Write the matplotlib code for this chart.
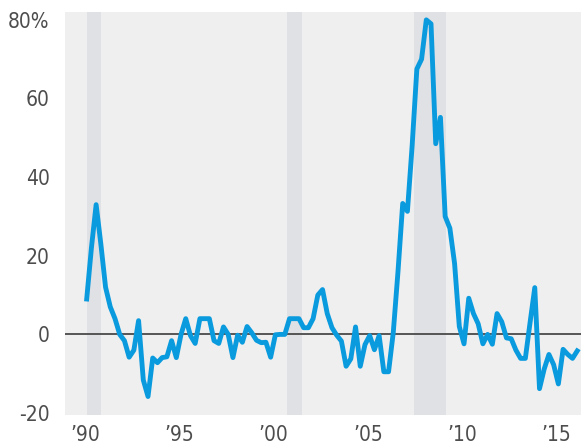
import matplotlib
matplotlib.use('Agg')
import matplotlib.pyplot as plt
import numpy as np

# quarterly values, starting Q3 1990
values = [9, 22, 33, 23, 12, 7, 4, 0, -1.6, -5.8,
          -4, 3.5, -11.6, -15.8, -6, -7.2, -5.9, -5.7, -1.6, -5.9,
          0, 4, -0.3, -2.3, 4, 4, 4, -1.6, -2.3, 1.9,
          0, -5.9, -0.2, -2, 2, 0.4, -1.5, -2.1, -2, -5.8,
          -0.1, 0, 0, 4, 4, 4, 1.7, 1.7, 4, 10,
          11.4, 5.3, 1.7, -0.2, -1.7, -8.1, -6.2, 1.9, -8.1, -2.6,
          -0.3, -3.9, -0.3, -9.5, -9.5, 0.5, 16, 33.3, 31.3, 48,
          67.5, 70, 80, 79, 48.5, 55.2, 30, 27, 18, 2,
          -2.4, 9.2, 5.3, 2.7, -2.4, 0, -2.5, 5.3, 3.2, -0.9,
          -1.1, -4, -6.1, -6.1, 3, 11.9, -13.8, -8.8, -5.1, -7.7,
          -12.6, -3.8, -5.1, -6.1, -4.2]
start_year = 1990.5
recessions = [(1990.5, 1991.25), (2001.1, 2001.9), (2007.85, 2009.55)]
tick_years = [1990, 1995, 2000, 2005, 2010, 2015]
tick_labels = ["\u201990", "\u201995", "\u201900", "\u201905", "\u201910", "\u201915"]
y_ticks = [-20, 0, 20, 40, 60, 80]
y_labels = ["-20", "0", "20", "40", "60", "80%"]

x = start_year + 0.25 * np.arange(len(values))

plt.rcParams['font.family'] = ['DejaVu Sans']
plt.rcParams['font.stretch'] = 'condensed'

fig = plt.figure(figsize=(5.81, 4.44), dpi=100)
ax = fig.add_axes([65 / 581, 29 / 444, 516 / 581, 403 / 444])
ax.set_facecolor('#efefef')

for a, b in recessions:
    ax.axvspan(a, b, color='#e0e1e4', lw=0, zorder=1)

ax.axhline(0, color='#555555', lw=1.4, zorder=2)
ax.plot(x, values, color='#0a9ade', lw=3.5, solid_joinstyle='round', zorder=3)

ax.set_xlim(1989.35, 2016.7)
ax.set_ylim(-20.5, 82)
ax.set_xticks([t + 0.4 for t in tick_years])
ax.set_xticklabels(tick_labels)
ax.set_yticks(y_ticks)
ax.set_yticklabels(y_labels)
ax.tick_params(length=0, labelsize=15, labelcolor='#4d4d4d')
ax.tick_params(axis='y', pad=11)
ax.tick_params(axis='x', pad=7)
for s in ax.spines.values():
    s.set_visible(False)

fig.savefig('out.png', dpi=100)
